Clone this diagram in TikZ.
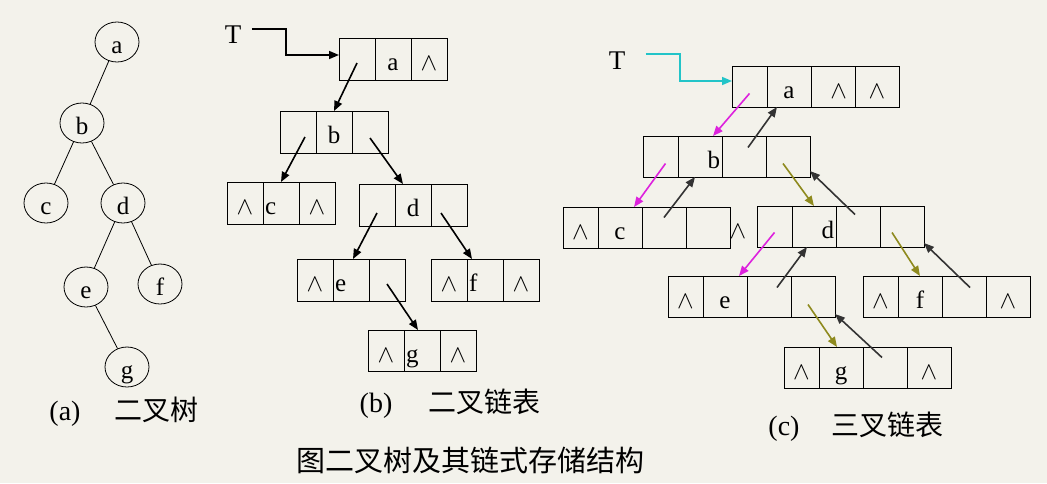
\documentclass[tikz,border=0pt]{standalone}
\usepackage{fontspec}
\setmainfont{Liberation Serif}
\newfontfamily\cjk{Noto Sans CJK SC}
\usetikzlibrary{shapes.geometric, arrows.meta, positioning}

\definecolor{bgpaper}{HTML}{F3F2EB}
\definecolor{ptrpink}{HTML}{DD22DD}
\definecolor{ptrolive}{HTML}{8E8A1E}
\definecolor{ptrdark}{HTML}{333333}
\definecolor{ptrcyan}{HTML}{22C4C8}

\begin{document}
\begin{tikzpicture}[
    x=1pt, y=-1pt,
    node distance=0pt,
    letters/.style={font=\fontsize{25}{27}\selectfont, text height=25pt, text depth=2pt},
    tnode/.style={ellipse, draw, line width=0.8pt, minimum width=44pt, minimum height=40pt, inner sep=0pt, letters},
    bcell/.style={rectangle, draw, line width=0.8pt, minimum width=36pt, minimum height=42pt, inner sep=0pt, outer sep=0pt, letters},
    lcell/.style={bcell, text width=32pt, align=left, inner xsep=2pt},
    tcell/.style={bcell, minimum width=44pt, minimum height=41pt},
    fcell/.style={tcell, minimum width=35pt},
    rcell/.style={tcell, text width=40pt, align=right, inner xsep=2pt},
    branch/.style={line width=0.8pt},
    ptr/.style={-{Triangle[length=10pt, width=8pt]}, line width=1.6pt},
    captext/.style={font=\fontsize{28}{30}\selectfont},
]

% paper
\fill[bgpaper] (0,0) rectangle (1047,483);
\useasboundingbox (0,0) rectangle (1047,483);

% (a) binary tree
\node[tnode] (ta) at (117,42) {a};
\node[tnode] (tb) at (82,123) {b};
\node[tnode] (tc) at (46,203) {c};
\node[tnode] (td) at (123,203) {d};
\node[tnode] (te) at (86,287) {e};
\node[tnode] (tf) at (160,284) {f};
\node[tnode] (tg) at (127,367) {g};
\draw[branch] (ta) -- (tb);
\draw[branch] (tb) -- (tc);
\draw[branch] (tb) -- (td);
\draw[branch] (td) -- (te);
\draw[branch] (td) -- (tf);
\draw[branch] (te) -- (tg);
\node[captext] (capa) at (124,412) {(a)\hspace{34pt}{\cjk 二叉树}};

% (b) binary linked list
\node[letters, font=\fontsize{27}{29}\selectfont] (headb) at (233,32) {T};
\node[bcell, anchor=north west] (ba1) at (339,38) {};
\node[bcell, right=of ba1] (ba2) {a};
\node[bcell, right=of ba2] (ba3) {$\wedge$};

\node[bcell, anchor=north west] (bb1) at (280,111) {};
\node[bcell, right=of bb1] (bb2) {b};
\node[bcell, right=of bb2] (bb3) {};

\node[bcell, anchor=north west] (bc1) at (227,182) {$\wedge$};
\node[lcell, right=of bc1] (bc2) {c};
\node[bcell, right=of bc2] (bc3) {$\wedge$};

\node[bcell, anchor=north west] (bd1) at (359,184) {};
\node[bcell, right=of bd1] (bd2) {d};
\node[bcell, right=of bd2] (bd3) {};

\node[bcell, anchor=north west] (be1) at (297,259) {$\wedge$};
\node[lcell, right=of be1] (be2) {e};
\node[bcell, right=of be2] (be3) {};

\node[bcell, anchor=north west] (bf1) at (431,259) {$\wedge$};
\node[lcell, right=of bf1] (bf2) {f};
\node[bcell, right=of bf2] (bf3) {$\wedge$};

\node[bcell, anchor=north west, minimum height=41pt] (bg1) at (368,330) {$\wedge$};
\node[lcell, right=of bg1, minimum height=41pt] (bg2) {g};
\node[bcell, right=of bg2, minimum height=41pt] (bg3) {$\wedge$};

\draw[ptr] ([xshift=7pt, yshift=3pt]headb.east) -- ++(34,0) |- ([yshift=4pt]ba1.west);
\draw[ptr] ([yshift=-4pt]ba1.center) -- (bb2.north);
\draw[ptr] ([xshift=7pt, yshift=-5pt]bb1.center) -- (bc2.north);
\draw[ptr] ([yshift=-6pt]bb3.center) -- ([xshift=-10pt]bd2.north);
\draw[ptr] ([yshift=-8pt]bd1.center) -- ([xshift=2pt]be2.north);
\draw[ptr] ([xshift=-8pt, yshift=-8pt]bd3.center) -- ([xshift=-13pt]bf2.north);
\draw[ptr] ([yshift=-4pt]be3.center) -- ([xshift=-4pt]bg2.north);
\node[captext] (capb) at (450,404) {(b)\hspace{36pt}{\cjk 二叉链表}};

% (c) triple linked list
\node[letters, font=\fontsize{27}{29}\selectfont] (headc) at (617,58) {T};
\node[fcell, anchor=north west] (ca1) at (732,66) {};
\node[tcell, right=of ca1] (ca2) {a};
\node[rcell, right=of ca2, text width=28pt, inner xsep=8pt] (ca3) {$\wedge$};
\node[tcell, right=of ca3] (ca4) {$\wedge$};

\node[fcell, anchor=north west] (cb1) at (643,136) {};
\node[rcell, right=of cb1] (cb2) {b};
\node[tcell, right=of cb2] (cb3) {};
\node[tcell, right=of cb3] (cb4) {};

\node[fcell, anchor=north west] (cc1) at (563,207) {$\wedge$};
\node[tcell, right=of cc1] (cc2) {c};
\node[tcell, right=of cc2] (cc3) {};
\node[tcell, right=of cc3] (cc4) {};
\node[letters] (cnull) at (738,226.5) {$\wedge$};

\node[fcell, anchor=north west] (cd1) at (757,206) {};
\node[rcell, right=of cd1] (cd2) {d};
\node[tcell, right=of cd2] (cd3) {};
\node[tcell, right=of cd3] (cd4) {};

\node[fcell, anchor=north west] (ce1) at (668,276) {$\wedge$};
\node[tcell, right=of ce1] (ce2) {e};
\node[tcell, right=of ce2] (ce3) {};
\node[tcell, right=of ce3] (ce4) {};

\node[fcell, anchor=north west] (cf1) at (863,276) {$\wedge$};
\node[tcell, right=of cf1] (cf2) {f};
\node[tcell, right=of cf2] (cf3) {};
\node[tcell, right=of cf3] (cf4) {$\wedge$};

\node[fcell, anchor=north west] (cg1) at (784,347) {$\wedge$};
\node[tcell, right=of cg1] (cg2) {g};
\node[tcell, right=of cg2] (cg3) {};
\node[tcell, right=of cg3] (cg4) {$\wedge$};

\draw[ptr, ptrcyan] ([xshift=17pt, yshift=4pt]headc.east) -- ++(34,0) |- ([yshift=5.5pt]ca1.west);
% children
\draw[ptr, ptrpink] ([yshift=-7pt]ca1.center) -- ([xshift=13pt]cb2.north);
\draw[ptr, ptrpink] ([xshift=5pt, yshift=-7pt]cb1.center) -- ([xshift=14pt]cc2.north);
\draw[ptr, ptrolive] ([xshift=-5pt, yshift=-7pt]cb4.center) -- (cd2.north);
\draw[ptr, ptrpink] ([yshift=-6pt]cd1.center) -- ([xshift=14pt]ce2.north);
\draw[ptr, ptrolive] ([xshift=-10pt, yshift=-6pt]cd4.center) -- (cf2.north);
\draw[ptr, ptrolive] ([xshift=-5pt, yshift=-8pt]ce4.center) -- ([xshift=-4pt]cg2.north);
% parents
\draw[ptr, ptrdark] ([xshift=4pt, yshift=9pt]cb3.center) -- ([xshift=-12pt]ca2.south);
\draw[ptr, ptrdark] ([yshift=10pt]cc3.center) -- ([xshift=-5pt]cb2.south);
\draw[ptr, ptrdark] ([xshift=-3pt, yshift=12pt]cd3.center) -- ([yshift=6pt]cb4.south east);
\draw[ptr, ptrdark] ([xshift=8pt, yshift=9pt]ce3.center) -- ([xshift=-7pt]cd2.south);
\draw[ptr, ptrdark] ([xshift=6pt, yshift=9pt]cf3.center) -- ([yshift=4pt]cd4.south east);
\draw[ptr, ptrdark] ([xshift=-3pt, yshift=10pt]cg3.center) -- ([yshift=3pt]ce4.south east);
\node[captext] (capc) at (856,427) {(c)\hspace{32pt}{\cjk 三叉链表}};

% title
\node[captext, font=\fontsize{29}{31}\selectfont] (title) at (470,460) {{\cjk 图二叉树及其链式存储结构}};

\end{tikzpicture}
\end{document}
